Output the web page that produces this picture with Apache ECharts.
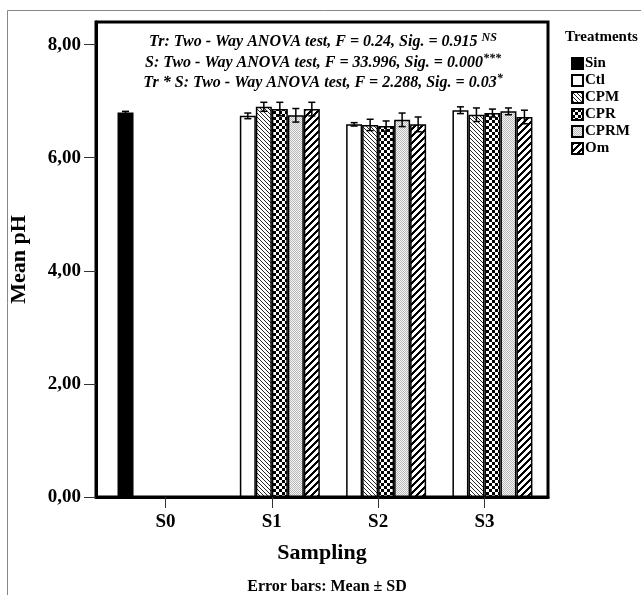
<!DOCTYPE html>
<html>
<head>
<meta charset="utf-8">
<script src="https://cdn.jsdelivr.net/npm/echarts@6/dist/echarts.min.js"></script>
<style>
  html, body { margin: 0; padding: 0; background: #fff; }
  #draw_area { width: 641px; height: 595px; }
</style>
</head>
<body>
<div id="draw_area"></div>
<script>
"use strict";

// categories on the x axis
const sampling = ['S0', 'S1', 'S2', 'S3'];
const treatments = ['Sin', 'Ctl', 'CPM', 'CPR', 'CPRM', 'Om'];
const yTicks = [0, 2, 4, 6, 8];

// mean pH per treatment (null = not sampled)
const sinMean = [6.80, null, null, null];
const ctlMean = [null, 6.74, 6.59, 6.84];
const cpmMean = [null, 6.90, 6.58, 6.76];
const cprMean = [null, 6.86, 6.56, 6.79];
const cprmMean = [null, 6.75, 6.67, 6.82];
const omMean = [null, 6.86, 6.59, 6.72];

// standard deviations
const sinSd = [0.02, null, null, null];
const ctlSd = [null, 0.05, 0.03, 0.06];
const cpmSd = [null, 0.08, 0.10, 0.12];
const cprSd = [null, 0.12, 0.09, 0.07];
const cprmSd = [null, 0.12, 0.12, 0.06];
const omSd = [null, 0.12, 0.13, 0.12];

const means = [sinMean, ctlMean, cpmMean, cprMean, cprmMean, omMean];
const sds = [sinSd, ctlSd, cpmSd, cprSd, cprmSd, omSd];

const BAR_W = 16;
const FONT = '"Liberation Serif", "DejaVu Serif", serif';

// build a small canvas tile used as fill pattern
function makeTile(size, painter) {
    const c = document.createElement('canvas');
    c.width = size; c.height = size;
    const ctx = c.getContext('2d');
    const img = ctx.createImageData(size, size);
    for (let y = 0; y < size; y++) {
        for (let x = 0; x < size; x++) {
            const v = painter(x, y);
            const k = (y * size + x) * 4;
            img.data[k] = v; img.data[k + 1] = v; img.data[k + 2] = v; img.data[k + 3] = 255;
        }
    }
    ctx.putImageData(img, 0, 0);
    return { image: c, repeat: 'repeat' };
}

const fills = [
    '#000',
    '#fff',
    makeTile(4, function (x, y) { return ((x - y + 8) % 4 === 0) ? 40 : 255; }),          // thin "\" hatch
    makeTile(6, function (x, y) { return ((Math.floor(x / 3) + Math.floor(y / 3)) % 2 === 0) ? 0 : 255; }), // checker
    makeTile(2, function (x, y) { return ((x + y) % 2 === 0) ? 185 : 245; }),            // light dotted grey
    makeTile(7, function (x, y) { return ((x + y) % 7 < 3) ? 0 : 255; })                  // thick "/" hatch
];

// bar series + matching error bar series
let series = [];
treatments.forEach(function (name, s) {
    let barData = [];
    let errData = [];
    for (let i = 0; i < sampling.length; i++) {
        if (means[s][i] == null) continue;
        barData.push([i, means[s][i]]);
        errData.push([i, means[s][i], sds[s][i]]);
    }
    series.push({
        name: name,
        type: 'bar',
        barWidth: BAR_W,
        barGap: '0%',
        data: barData,
        itemStyle: { color: fills[s], borderColor: '#000', borderWidth: 1.5 }
    });
    series.push({
        name: name,
        type: 'custom',
        z: 5,
        data: errData,
        renderItem: function (params, api) {
            const off = (s - 2.5) * BAR_W;
            const top = api.coord([api.value(0), api.value(1) + api.value(2)]);
            const bot = api.coord([api.value(0), api.value(1) - api.value(2)]);
            const cx = top[0] + off;
            const st = { stroke: '#000', lineWidth: 1.5 };
            return {
                type: 'group',
                children: [
                    { type: 'line', shape: { x1: cx, y1: top[1], x2: cx, y2: bot[1] }, style: st },
                    { type: 'line', shape: { x1: cx - 3.5, y1: top[1], x2: cx + 3.5, y2: top[1] }, style: st },
                    { type: 'line', shape: { x1: cx - 3.5, y1: bot[1], x2: cx + 3.5, y2: bot[1] }, style: st }
                ]
            };
        }
    });
});

const option = {
    animation: false,
    backgroundColor: '#fff',
    title: [
        {
            text: 'Treatments',
            left: 560,
            top: 25,
            textStyle: { fontFamily: FONT, fontSize: 15, fontWeight: 'bold', color: '#000' }
        },
        {
            text: 'Error bars: Mean ± SD',
            left: 322,
            top: 574,
            textAlign: 'center',
            textStyle: { fontFamily: FONT, fontSize: 16, fontWeight: 'bold', color: '#000' }
        }
    ],
    legend: {
        orient: 'vertical',
        left: 566,
        top: 51,
        itemWidth: 11,
        itemHeight: 11,
        itemGap: 2,
        data: treatments,
        icon: 'rect',
        textStyle: { fontFamily: FONT, fontSize: 15, fontWeight: 'bold', color: '#000', padding: [0, 0, 0, -3] }
    },
    grid: {
        left: 93, right: 93, top: 22, bottom: 98,
        show: true,
        borderColor: '#000',
        borderWidth: 3
    },
    xAxis: {
        type: 'value',
        min: -0.654,
        max: 3.598,
        name: 'Sampling',
        nameLocation: 'middle',
        nameGap: 45,
        nameTextStyle: { fontFamily: FONT, fontSize: 22, fontWeight: 'bold', color: '#000' },
        axisLine: { show: true, onZero: false, lineStyle: { color: '#000', width: 3 } },
        axisTick: { show: true, length: 11, customValues: [0, 1, 2, 3], lineStyle: { color: '#333', width: 1 } },
        axisLabel: {
            customValues: [0, 1, 2, 3],
            margin: 16,
            fontFamily: FONT, fontSize: 19, fontWeight: 'bold', color: '#000',
            formatter: function (v) { return sampling[Math.round(v)]; }
        },
        splitLine: { show: false }
    },
    yAxis: {
        type: 'value',
        min: 0,
        max: 8.4,
        name: 'Mean pH',
        nameLocation: 'middle',
        nameGap: 66,
        nameTextStyle: { fontFamily: FONT, fontSize: 22, fontWeight: 'bold', color: '#000' },
        axisLine: { show: true, onZero: false, lineStyle: { color: '#000', width: 3 } },
        axisTick: { show: true, length: 12, customValues: yTicks, lineStyle: { color: '#333', width: 1 } },
        axisLabel: {
            customValues: yTicks,
            margin: 15,
            fontFamily: FONT, fontSize: 19, fontWeight: 'bold', color: '#000',
            formatter: function (v) { return v.toFixed(2).replace('.', ','); }
        },
        splitLine: { show: false }
    },
    graphic: [
        // thin outer frame of the original figure
        { type: 'rect', silent: true, shape: { x: 7.5, y: 10.5, width: 700, height: 700 },
          style: { fill: null, stroke: '#888', lineWidth: 1 } },
        // ANOVA annotation, each line centred
        {
            type: 'text', x: 323, y: 32, silent: true,
            style: {
                text: '{m|Tr: Two - Way ANOVA test, F = 0.24, Sig. = 0.915 }{s|NS}\n' +
                      '{m|S: Two - Way ANOVA test, F = 33.996, Sig. = 0.000}{s|***}\n' +
                      '{m|Tr * S: Two - Way ANOVA test, F = 2.288, Sig. = 0.03}{s|*}',
                align: 'center',
                verticalAlign: 'top',
                rich: {
                    m: { fontFamily: FONT, fontSize: 16, fontWeight: 'bold', fontStyle: 'italic', fill: '#000', lineHeight: 20.5 },
                    s: { fontFamily: FONT, fontSize: 12, fontWeight: 'bold', fontStyle: 'italic', fill: '#000', lineHeight: 10, verticalAlign: 'top' }
                }
            }
        }
    ],
    series: series
};

const chart_object = echarts.init(document.getElementById('draw_area'));
chart_object.setOption(option);
</script>
</body>
</html>
